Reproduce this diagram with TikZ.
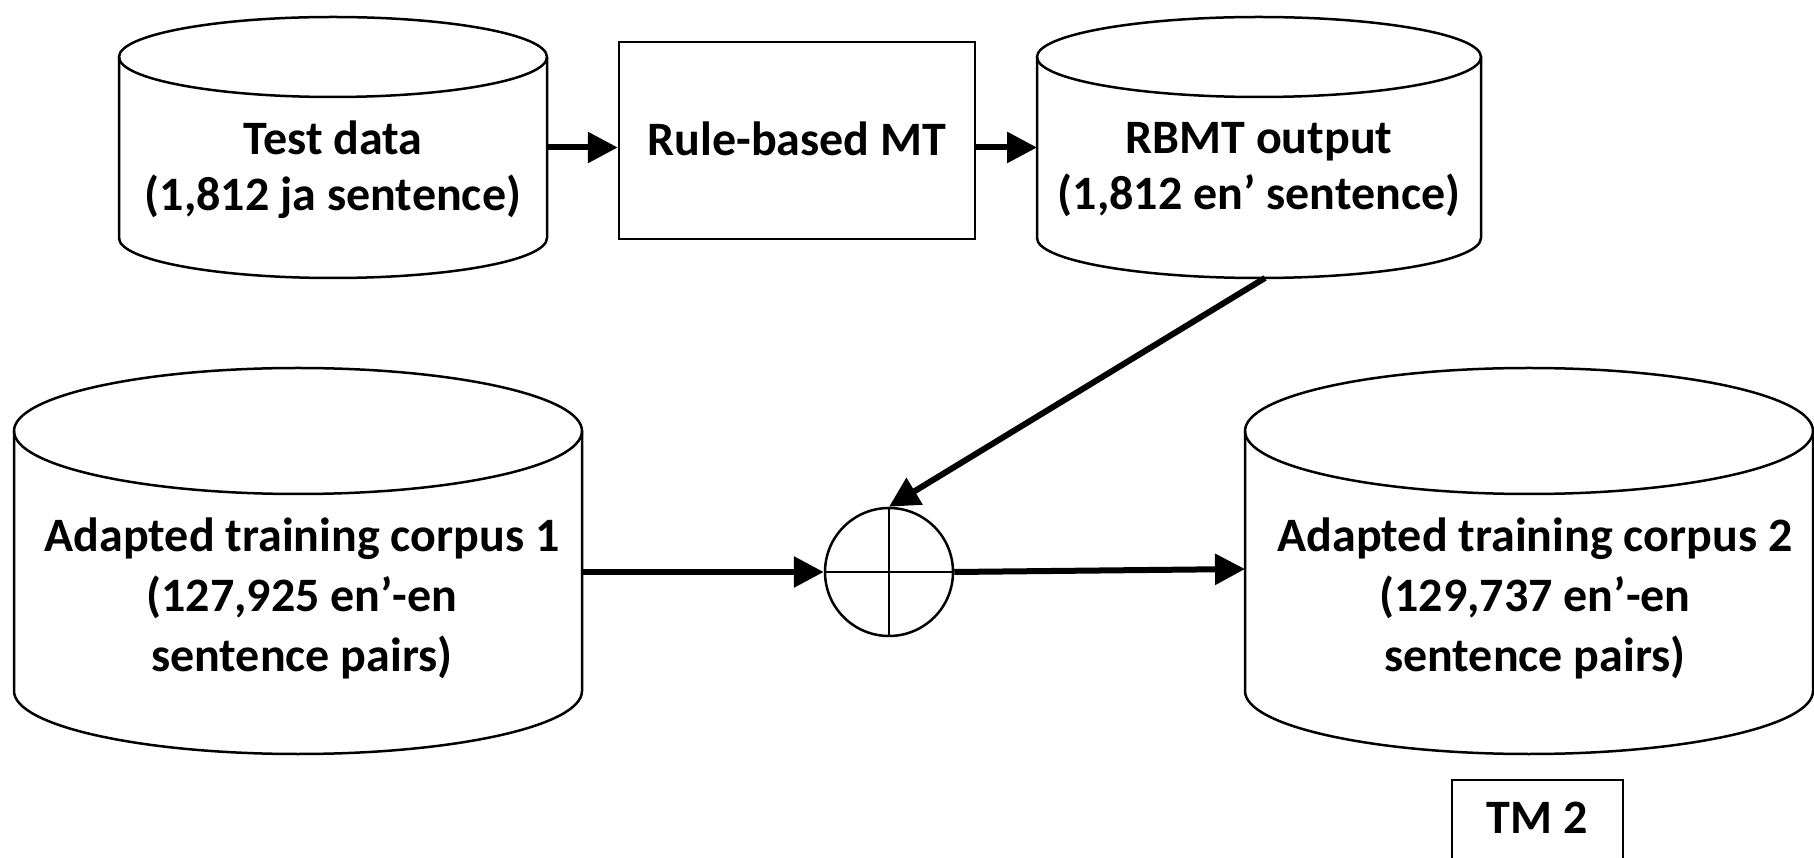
\documentclass[tikz,border=0pt]{standalone}
\usepackage{fontspec}
\setmainfont{Carlito}
\usetikzlibrary{arrows.meta}

\tikzset{
  outline/.style={line width=2.5pt, draw=black},
  cylbody/.style={inner sep=0pt, outer sep=0pt},
  toptext/.style={align=center, font=\fontsize{48}{56}\selectfont\bfseries, inner sep=0pt},
  bottext/.style={align=center, font=\fontsize{48}{60}\selectfont\bfseries, inner sep=0pt},
  arr/.style={line width=6pt, -{Triangle[length=30pt, width=30pt]}},
}

% database cylinder: name, left, right, top, bottom, vertical radius of the ends
\newcommand\dbcyl[6]{%
  \pgfmathsetmacro\cylrx{(#3-#2)/2}%
  \pgfmathsetmacro\cylcx{(#3+#2)/2}%
  \pgfmathsetmacro\cylcy{(#4+#5)/2}%
  \pgfmathsetmacro\cylyt{#4-#6}%
  \pgfmathsetmacro\cylyb{#5+#6}%
  \pgfmathsetmacro\cylh{#4-#5}%
  \pgfmathsetmacro\cylw{#3-#2}%
  \node[cylbody, minimum width=\cylw pt, minimum height=\cylh pt] (#1) at (\cylcx,\cylcy) {};
  \draw[outline] (#2,\cylyt) -- (#2,\cylyb)
    arc[start angle=180, end angle=360, x radius=\cylrx, y radius=#6] -- (#3,\cylyt);
  \draw[outline] (\cylcx,\cylyt) ellipse[x radius=\cylrx, y radius=#6];
}

\begin{document}
\begin{tikzpicture}[x=1pt, y=1pt]
\useasboundingbox (0,0) rectangle (1814,857);

% data stores
\dbcyl{td}{119}{547}{840}{579}{40}
\dbcyl{rb}{1037}{1481}{840}{579}{40}
\dbcyl{ca}{14}{582}{489}{103}{63}
\dbcyl{cb}{1245}{1813}{489}{103}{63}

\node[toptext] (tdt) at (333,687) {Test data\\(1,812 ja sentence)};
\node[toptext] (rbt) at (1259,687) {RBMT output\\(1,812 en’ sentence)};
\node[bottext] (cat) at (302,259) {Adapted training corpus 1\\(127,925 en’-en\\sentence pairs)};
\node[bottext] (cbt) at (1535,259) {Adapted training corpus 2\\(129,737 en’-en\\sentence pairs)};

% translation system
\node[outline, draw, minimum width=356pt, minimum height=197pt, inner sep=0pt] (mt) at (797,716.5) {};
\node[toptext] (mtt) at (797,718) {Rule-based MT};

% merge operator
\node[outline, draw, circle, minimum size=128pt, inner sep=0pt] (plus) at (889,285) {};
\draw[line width=2pt] (plus.north) -- (plus.south) (plus.west) -- (plus.east);

% flow
\draw[arr] (td.east) -- (td.east -| mt.west);
\draw[arr] (mt.east |- rb.west) -- (rb.west);
\draw[arr] ([xshift=6pt]rb.south) -- (plus.north);
\draw[arr] (ca.east |- plus.west) -- (plus.west);
\draw[arr] (plus.east) -- ([yshift=-8pt]cb.west);

% label box at the foot
\node[toptext] (tm) at (1537,39) {TM 2};
\draw[outline] (1452,-10) |- (1623,77) -- (1623,-10);
\end{tikzpicture}
\end{document}
